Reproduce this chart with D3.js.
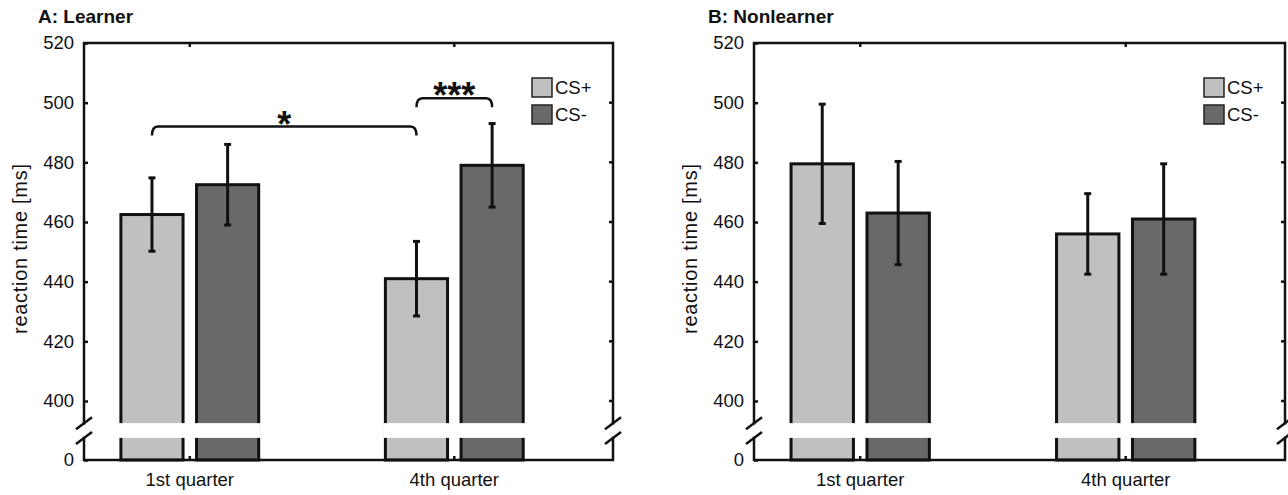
<!DOCTYPE html>
<html>
<head>
<meta charset="utf-8">
<script src="https://cdn.jsdelivr.net/npm/d3@7"></script>
<style>
  body { margin: 0; background: #fff; }
  svg text { font-family: "Liberation Sans", Arial, sans-serif; fill: #111; }
</style>
</head>
<body>
<div id="chart"></div>
<script>
// Dados do gráfico //
const categories = ["1st quarter", "4th quarter"]
const series = ["CS+", "CS-"]
const seriesColors = ["#c0c0c0", "#696969"]
const yTicks = [0, 400, 420, 440, 460, 480, 500, 520]

// Painel A: Learner
const learnerMean = { "CS+": [462.5, 441], "CS-": [472.5, 479] }
const learnerErr  = { "CS+": [12.3, 12.5], "CS-": [13.5, 14] }
// Painel B: Nonlearner
const nonlearnerMean = { "CS+": [479.5, 456], "CS-": [463, 461] }
const nonlearnerErr  = { "CS+": [20, 13.5], "CS-": [17.3, 18.5] }

// Colchetes de significância (só no painel A)
const learnerBrackets = [
  { from: [0, "CS+"], to: [1, "CS+"], level: 492, label: "*" },
  { from: [1, "CS+"], to: [1, "CS-"], level: 501.5, label: "***" }
]

const panels = [
  { title: "A: Learner", mean: learnerMean, err: learnerErr, brackets: learnerBrackets, left: 84, right: 613 },
  { title: "B: Nonlearner", mean: nonlearnerMean, err: nonlearnerErr, brackets: [], left: 754, right: 1285 }
]

const W = 1288, H = 495
const plotTop = 43, plotBottom = 460
const breakBand = [150, 250]   // faixa do eixo quebrado (escala comprimida)

const svg = d3.select("#chart").append("svg")
  .attr("width", W).attr("height", H)
  .attr("viewBox", "0 0 " + W + " " + H)

// Renderiza um painel //
function renderPanel(p) {
  const g = svg.append("g")
  const x = d3.scaleLinear().domain([0.6, 2.6]).range([p.left, p.right])
  const y = d3.scaleLinear().domain([0, 400, 520]).range([plotBottom, 401, plotTop])
  const offset = 0.143, bw = 0.235
  const barX = (ci, s) => x(ci + 1) + (series.indexOf(s) === 0 ? -1 : 1) * (x(offset) - x(0))
  const halfW = (x(bw) - x(0)) / 2

  // título
  g.append("text").attr("x", p.left - 46).attr("y", 23)
    .style("font-size", "19px").style("font-weight", "bold")
    .text(p.title)

  // rótulo do eixo y
  g.append("text")
    .attr("transform", "translate(" + (p.left - 57) + "," + 249 + ") rotate(-90)")
    .attr("text-anchor", "middle")
    .attr("textLength", 170).attr("lengthAdjust", "spacing")
    .style("font-size", "20px")
    .text("reaction time [ms]")

  // eixo y esquerdo
  const yAxis = g.append("g").attr("transform", "translate(" + p.left + ",0)")
    .call(d3.axisLeft(y).tickValues(yTicks).tickSizeInner(-4).tickSizeOuter(0).tickPadding(10))
  yAxis.select(".domain").remove()
  yAxis.selectAll("line").attr("stroke", "#111").attr("stroke-width", 2.5)
  yAxis.selectAll("text").style("font-size", "18.5px").attr("fill", "#111")

  // ticks do eixo direito
  g.append("g").attr("transform", "translate(" + p.right + ",0)")
    .selectAll("line").data(yTicks.filter(d => d > 0 && d < 520)).enter().append("line")
    .attr("x1", 0).attr("x2", -4).attr("y1", d => y(d)).attr("y2", d => y(d))
    .attr("stroke", "#111").attr("stroke-width", 2.5)

  // barras
  const rows = []
  categories.forEach((c, ci) => {
    series.forEach((s, si) => {
      rows.push({ ci: ci, s: s, si: si, v: p.mean[s][ci], e: p.err[s][ci] })
    })
  })

  g.selectAll("rect.bar").data(rows).enter().append("rect")
    .attr("class", "bar")
    .attr("x", d => barX(d.ci, d.s) - halfW)
    .attr("width", halfW * 2)
    .attr("y", d => y(d.v))
    .attr("height", d => y(0) - y(d.v))
    .attr("fill", d => seriesColors[d.si])
    .attr("stroke", "#111").attr("stroke-width", 3)

  // faixa branca da quebra
  categories.forEach((c, ci) => {
    const x0 = barX(ci, series[0]) - halfW - 2
    const x1 = barX(ci, series[1]) + halfW + 2
    g.append("rect").attr("x", x0).attr("width", x1 - x0)
      .attr("y", y(breakBand[1])).attr("height", y(breakBand[0]) - y(breakBand[1]))
      .attr("fill", "#fff")
  })

  // barras de erro
  const eb = g.selectAll("g.err").data(rows).enter().append("g").attr("class", "err")
    .attr("stroke", "#111").attr("stroke-width", 3)
  eb.append("line")
    .attr("x1", d => barX(d.ci, d.s)).attr("x2", d => barX(d.ci, d.s))
    .attr("y1", d => y(d.v - d.e)).attr("y2", d => y(d.v + d.e))
  eb.append("line")
    .attr("x1", d => barX(d.ci, d.s) - 3.5).attr("x2", d => barX(d.ci, d.s) + 3.5)
    .attr("y1", d => y(d.v + d.e)).attr("y2", d => y(d.v + d.e))
  eb.append("line")
    .attr("x1", d => barX(d.ci, d.s) - 3.5).attr("x2", d => barX(d.ci, d.s) + 3.5)
    .attr("y1", d => y(d.v - d.e)).attr("y2", d => y(d.v - d.e))

  // moldura com quebra nos eixos verticais
  const frame = g.append("g").attr("stroke", "#111").attr("stroke-width", 2.5)
    .attr("fill", "none").attr("stroke-linecap", "square")
  frame.append("path").attr("d",
    "M" + p.left + "," + y(breakBand[1]) + "V" + plotTop + "H" + p.right + "V" + y(breakBand[1]))
  frame.append("path").attr("d",
    "M" + p.left + "," + y(breakBand[0]) + "V" + plotBottom + "H" + p.right + "V" + y(breakBand[0]))
  ;[p.left, p.right].forEach(ax => {
    breakBand.forEach(b => {
      frame.append("line")
        .attr("x1", ax - 8).attr("y1", y(b) + 6)
        .attr("x2", ax + 8).attr("y2", y(b) - 6)
        .attr("stroke-linecap", "butt")
    })
  })

  // ticks de categoria (topo e base) e rótulos
  categories.forEach((c, ci) => {
    frame.append("line").attr("x1", x(ci + 1)).attr("x2", x(ci + 1))
      .attr("y1", plotTop).attr("y2", plotTop + 4).attr("stroke-linecap", "butt")
    frame.append("line").attr("x1", x(ci + 1)).attr("x2", x(ci + 1))
      .attr("y1", plotBottom).attr("y2", plotBottom - 4).attr("stroke-linecap", "butt")
    g.append("text").attr("x", x(ci + 1)).attr("y", 486)
      .attr("text-anchor", "middle").style("font-size", "18.5px")
      .text(c)
  })

  // legenda
  const lg = g.append("g").attr("transform", "translate(" + (p.right - 81) + ",78)")
  series.forEach((s, si) => {
    lg.append("rect").attr("x", 0).attr("y", si * 27).attr("width", 20).attr("height", 19)
      .attr("fill", seriesColors[si]).attr("stroke", "#222").attr("stroke-width", 1.5)
    lg.append("text").attr("x", 23).attr("y", si * 27 + 16)
      .style("font-size", "18.5px").text(s)
  })

  // colchetes de significância
  p.brackets.forEach(b => {
    const xa = barX(b.from[0], b.from[1]), xb = barX(b.to[0], b.to[1])
    const yb = y(b.level)
    g.append("path")
      .attr("d", "M" + xa + "," + (yb + 9) + "Q" + xa + "," + yb + " " + (xa + 6) + "," + yb +
        "H" + (xb - 6) + "Q" + xb + "," + yb + " " + xb + "," + (yb + 9))
      .attr("fill", "none").attr("stroke", "#111").attr("stroke-width", 2.5)
    g.append("text").attr("x", (xa + xb) / 2).attr("y", yb + 10)
      .attr("text-anchor", "middle")
      .style("font-size", "36px").style("font-weight", "bold")
      .text(b.label)
  })
}

panels.forEach(renderPanel)
</script>
</body>
</html>
